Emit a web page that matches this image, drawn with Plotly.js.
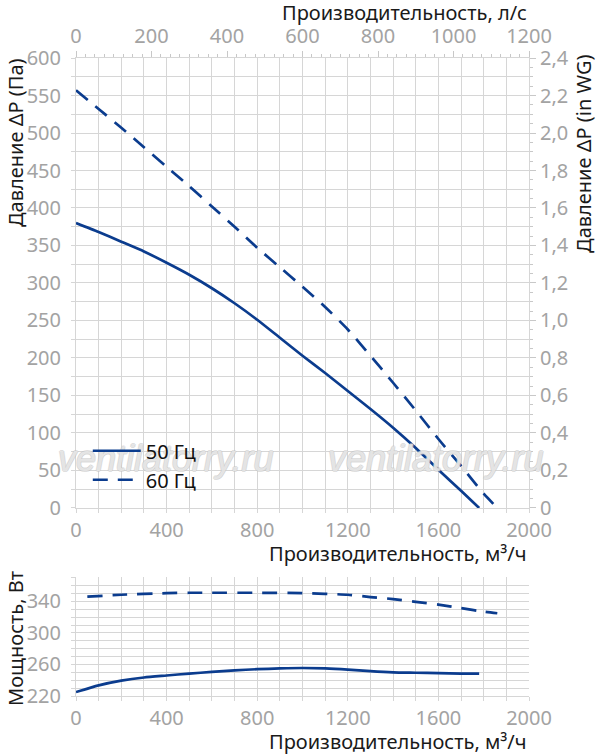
<!DOCTYPE html>
<html><head><meta charset="utf-8">
<script src="https://cdn.plot.ly/plotly-3.0.1.min.js"></script>
<style>html,body{margin:0;padding:0;background:#fff}#c{width:597px;height:754px}</style>
</head><body><div id="c"></div>
<script>
// Pressure curves (m³/h, Pa)
const q50 = [0,100,200,300,400,500,600,700,800,900,1000,1100,1200,1300,1400,1500,1600,1700,1780];
const p50 = [380,368,355,342,327,311,293,273,251,227,203,180,156,132,107,80,51,23,0];
const q60 = [0,100,200,300,400,500,600,700,800,900,1000,1100,1200,1300,1400,1500,1600,1700,1800,1860];
const p60 = [557,532,507,481,455,429,402,375,347,321,295,268,238,203,167,130,92,56,19,0];
// Power curves (m³/h, W)
const qw50 = [0,100,200,300,400,500,600,700,800,900,1000,1100,1200,1300,1400,1500,1600,1700,1780];
const w50 = [225,233.5,239.5,243.5,246,248.5,250.5,252.5,254,255,255.5,255,253.5,251.5,250,249.5,249,248.5,248.3];
const qw60 = [50,200,400,500,600,800,1000,1200,1300,1400,1500,1600,1700,1800,1860];
const w60 = [346,348.5,350.5,351,351,351,350.5,348.5,345.5,343,339.5,336,331.5,327,325];
// Tick labels
const wgVals = [0,0.2,0.4,0.6,0.8,1.0,1.2,1.4,1.6,1.8,2.0,2.2,2.4];
const wgText = ['0','0,2','0,4','0,6','0,8','1,0','1,2','1,4','1,6','1,8','2,0','2,2','2,4'];
const names = ['50 Гц','60 Гц'];

const blue = '#0b3c8e';
const grid = '#d6d6d6';
const tickGray = '#a3a3a3';
const FONT = 'Noto Sans, Open Sans, sans-serif';
const dashPat = '15px,10px';

const traces = [
  {x:q50, y:p50, xaxis:'x', yaxis:'y', mode:'lines', name:names[0],
   line:{color:blue, width:2.7, shape:'spline', smoothing:0.6}, hoverinfo:'skip'},
  {x:q60, y:p60, xaxis:'x', yaxis:'y', mode:'lines', name:names[1],
   line:{color:blue, width:2.7, dash:dashPat, shape:'spline', smoothing:0.6}, hoverinfo:'skip'},
  {x:[], y:[], xaxis:'x2', yaxis:'y2', mode:'lines', showlegend:false, hoverinfo:'skip'},
  {x:qw50, y:w50, xaxis:'x3', yaxis:'y3', mode:'lines', showlegend:false,
   line:{color:blue, width:2.7, shape:'spline', smoothing:0.6}, hoverinfo:'skip'},
  {x:qw60, y:w60, xaxis:'x3', yaxis:'y3', mode:'lines', showlegend:false,
   line:{color:blue, width:2.7, dash:dashPat, shape:'spline', smoothing:0.6}, hoverinfo:'skip'}
];

const tickFont = {family:FONT, size:20, color:tickGray};
const titleFont = {family:FONT, size:20, color:'#1a1a1a'};
const wmFont = {family:'Liberation Sans, Arial, sans-serif', size:36, style:'italic',
  color:'rgba(255,255,255,0.55)', shadow:'-1px 0 #c4c4c4, 1px 0 #c4c4c4, 0 -1px #c4c4c4, 0 1px #c4c4c4'};

const baseX = {
  range:[0,2000], dtick:400, tick0:0, showgrid:true, gridcolor:grid, gridwidth:1,
  zeroline:false, showline:true, linecolor:grid, ticks:'outside', ticklen:4, tickcolor:grid,
  tickfont:tickFont, fixedrange:true,
  minor:{dtick:100, showgrid:true, gridcolor:grid, gridwidth:1, ticks:'outside', ticklen:4, tickcolor:grid}
};

const layout = {
  width:597, height:754,
  margin:{l:76, r:68, t:58, b:58},
  paper_bgcolor:'#fff', plot_bgcolor:'#fff',
  separators:', ',
  font:{family:FONT},
  showlegend:true,
  legend:{x:0.026, y:0.415, xanchor:'left', yanchor:'top', bgcolor:'rgba(0,0,0,0)',
          font:{family:FONT, size:20, color:'#111'}, itemwidth:48, tracegroupgap:0},
  xaxis: Object.assign({}, baseX, {domain:[0,1], anchor:'y'}),
  yaxis: {domain:[0.2947,1], range:[0,600], dtick:50, anchor:'x',
    showgrid:true, gridcolor:grid, zeroline:false, showline:true, linecolor:grid,
    ticks:'outside', ticklen:4, tickcolor:grid, tickfont:tickFont, ticklabelstandoff:6, fixedrange:true,
    minor:{dtick:25, showgrid:true, gridcolor:grid, ticks:'outside', ticklen:4, tickcolor:grid}},
  xaxis2: {overlaying:'x', side:'top', anchor:'y', range:[0,1200], dtick:200, tick0:0,
    showgrid:false, zeroline:false, showline:true, linecolor:grid,
    ticks:'outside', ticklen:6, tickcolor:'#c8c8c8', tickfont:tickFont, fixedrange:true,
    minor:{dtick:25, ticks:'outside', ticklen:3, tickcolor:'#c8c8c8', showgrid:false}},
  yaxis2: {overlaying:'y', side:'right', anchor:'x', range:[0,2.4],
    tickmode:'array', tickvals:wgVals, ticktext:wgText,
    showgrid:false, zeroline:false, showline:true, linecolor:grid,
    ticks:'outside', ticklen:6, tickcolor:'#c8c8c8', tickfont:tickFont, fixedrange:true,
    minor:{dtick:0.05, ticks:'outside', ticklen:3, tickcolor:'#c8c8c8', showgrid:false}},
  xaxis3: Object.assign({}, baseX, {domain:[0,1], anchor:'y3'}),
  yaxis3: {domain:[0,0.1865], range:[220,371], tick0:220, dtick:40, anchor:'x3',
    showgrid:true, gridcolor:grid, zeroline:false, showline:true, linecolor:grid,
    ticks:'outside', ticklen:4, tickcolor:grid, tickfont:tickFont, ticklabelstandoff:6, fixedrange:true,
    minor:{dtick:10, showgrid:true, gridcolor:grid, ticks:'outside', ticklen:4, tickcolor:grid}},
  annotations:[
    {text:'ventilatorry.ru', xref:'paper', yref:'paper', x:0.1965, y:0.373,
     xanchor:'center', yanchor:'middle', showarrow:false, font:wmFont},
    {text:'ventilatorry.ru', xref:'paper', yref:'paper', x:0.7925, y:0.373,
     xanchor:'center', yanchor:'middle', showarrow:false, font:wmFont},
    {text:'Производительность, л/с', xref:'paper', yref:'paper', x:1, y:1.072,
     xanchor:'right', yanchor:'middle', showarrow:false, font:titleFont},
    {text:'Производительность, м³/ч', xref:'paper', yref:'paper', x:1, y:0.2241,
     xanchor:'right', yanchor:'middle', showarrow:false, font:titleFont},
    {text:'Производительность, м³/ч', xref:'paper', yref:'paper', x:1, y:-0.0721,
     xanchor:'right', yanchor:'middle', showarrow:false, font:titleFont},
    {text:'Давление ΔP (Па)', xref:'paper', yref:'paper', x:-0.1347, y:0.8683,
     xanchor:'center', yanchor:'middle', textangle:-90, showarrow:false, font:titleFont},
    {text:'Давление ΔP (in WG)', xref:'paper', yref:'paper', x:1.119, y:0.8495,
     xanchor:'center', yanchor:'middle', textangle:-90, showarrow:false, font:titleFont},
    {text:'Мощность, Вт', xref:'paper', yref:'paper', x:-0.1347, y:0.0909,
     xanchor:'center', yanchor:'middle', textangle:-90, showarrow:false, font:titleFont}
  ]
};

Plotly.newPlot('c', traces, layout, {displayModeBar:false, staticPlot:true}).then(function(){
  // keep the legend drawn above the watermark
  const lg = document.querySelector('#c .legend');
  if (lg && lg.parentNode) lg.parentNode.appendChild(lg);
});
</script></body></html>
